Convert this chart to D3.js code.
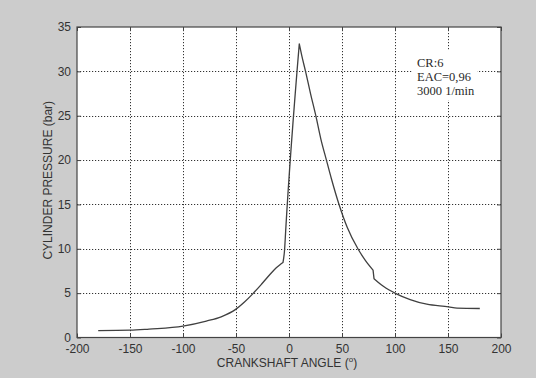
<!DOCTYPE html>
<html>
<head>
<meta charset="utf-8">
<script src="https://cdn.jsdelivr.net/npm/d3@7/dist/d3.min.js"></script>
<style>
  html, body { margin: 0; padding: 0; background: #cccccc; }
  svg { display: block; }
</style>
</head>
<body>
<svg id="chart" width="536" height="378"></svg>
<script>
// Crank angle (degrees) and cylinder pressure (bar)
const crankAngle = [-180, -150, -132, -100, -78, -64, -50, -42, -34, -26, -18, -12, -8, -5.7,
  -4.1, -3.1, 9.7, 12, 15.6, 20.3, 25.3, 30, 35.3, 40, 47.2, 55, 65, 72, 79.3,
  80.2, 89, 100.8, 114.3, 130, 150.6, 158.5, 180];
const cylinderPressure = [0.78, 0.82, 0.95, 1.28, 1.85, 2.33, 3.2, 4.0, 4.95, 6.0, 7.1, 7.87, 8.25, 8.45,
  10.0, 12.1, 33.1, 31.8, 30.0, 27.5, 25.0, 22.4, 20.0, 17.9, 15.0, 12.4, 10.0, 8.7, 7.6,
  6.63, 5.77, 4.95, 4.28, 3.75, 3.45, 3.3, 3.27];
// angles where the trace changes slope abruptly (start of combustion, peak, exhaust opening)
const breakAngles = [-5.7, 9.7, 79.3, 80.2];

const xTicks = [-200, -150, -100, -50, 0, 50, 100, 150, 200];
const yTicks = [0, 5, 10, 15, 20, 25, 30, 35];
const noteLines = ["CR:6", "EAC=0,96", "3000 1/min"];

const svg = d3.select("#chart");
const plot = { left: 77, right: 501, top: 27, bottom: 337.5 };

const x = d3.scaleLinear().domain([-200, 200]).range([plot.left, plot.right]);
const y = d3.scaleLinear().domain([0, 35]).range([plot.bottom, plot.top]);

const sans = "'Liberation Sans', Arial, sans-serif";
const textColor = "#333";
const fontSize = 12;

// white axes area
svg.append("rect")
  .attr("x", plot.left).attr("y", plot.top)
  .attr("width", plot.right - plot.left).attr("height", plot.bottom - plot.top)
  .attr("fill", "#fff");

// dotted grid
const grid = svg.append("g")
  .attr("stroke", "#333").attr("stroke-width", 1)
  .attr("stroke-dasharray", "1.2,1.8").attr("fill", "none");
grid.selectAll("line.v").data(xTicks.slice(1, -1)).join("line")
  .attr("x1", d => Math.round(x(d)) + 0.5).attr("x2", d => Math.round(x(d)) + 0.5)
  .attr("y1", plot.top).attr("y2", plot.bottom);
grid.selectAll("line.h").data(yTicks.slice(1, -1)).join("line")
  .attr("x1", plot.left).attr("x2", plot.right)
  .attr("y1", d => Math.round(y(d)) + 0.5).attr("y2", d => Math.round(y(d)) + 0.5);

// annotation with white background
const note = svg.append("g");
note.append("rect")
  .attr("x", 413).attr("y", 50).attr("width", 64).attr("height", 50)
  .attr("fill", "#fff");
note.selectAll("text").data(noteLines).join("text")
  .attr("x", 417).attr("y", (d, i) => 66.5 + i * 14.3)
  .attr("font-family", "'Liberation Serif', 'Times New Roman', serif")
  .attr("font-size", 12.5).attr("fill", "#2a2a2a")
  .text(d => d);

// pressure curve: smooth monotone pieces joined at the slope breaks
const points = crankAngle.map((a, i) => [a, cylinderPressure[i]]);
const cuts = [0, ...breakAngles.map(b => crankAngle.indexOf(b)), points.length - 1];
const piece = d3.line().x(d => x(d[0])).y(d => y(d[1])).curve(d3.curveMonotoneX);
let pathD = "";
for (let k = 0; k < cuts.length - 1; k++) {
  const seg = piece(points.slice(cuts[k], cuts[k + 1] + 1));
  pathD += k === 0 ? seg : "L" + seg.slice(1);
}
svg.append("path")
  .attr("d", pathD)
  .attr("fill", "none").attr("stroke", "#404040").attr("stroke-width", 1.3)
  .attr("stroke-linejoin", "round");

// axes with inward ticks
const fmt = d => String(d);
const xAxis = svg.append("g").attr("transform", `translate(0,${plot.bottom})`)
  .call(d3.axisBottom(x).tickValues(xTicks).tickFormat(fmt).tickSizeInner(-4).tickSizeOuter(0).tickPadding(7));
const yAxis = svg.append("g").attr("transform", `translate(${plot.left},0)`)
  .call(d3.axisLeft(y).tickValues(yTicks).tickFormat(fmt).tickSizeInner(-4).tickSizeOuter(0).tickPadding(6));
const xTop = svg.append("g").attr("transform", `translate(0,${plot.top})`)
  .call(d3.axisTop(x).tickValues(xTicks).tickSizeInner(-4).tickSizeOuter(0).tickFormat(""));
const yRight = svg.append("g").attr("transform", `translate(${plot.right},0)`)
  .call(d3.axisRight(y).tickValues(yTicks).tickSizeInner(-4).tickSizeOuter(0).tickFormat(""));

[xAxis, yAxis, xTop, yRight].forEach(g => {
  g.select(".domain").remove();
  g.selectAll(".tick line").attr("stroke", "#444");
  g.selectAll("text").attr("font-family", sans).attr("font-size", fontSize).attr("fill", textColor);
});
xAxis.selectAll("text").attr("dy", "0.68em");

// frame
svg.append("rect")
  .attr("x", plot.left).attr("y", plot.top)
  .attr("width", plot.right - plot.left).attr("height", plot.bottom - plot.top)
  .attr("fill", "none").attr("stroke", "#444").attr("stroke-width", 1.2);

// axis titles
const xTitle = svg.append("text")
  .attr("x", (plot.left + plot.right) / 2 - 2).attr("y", 366.5)
  .attr("text-anchor", "middle")
  .attr("font-family", sans).attr("font-size", fontSize).attr("fill", textColor);
xTitle.append("tspan").text("CRANKSHAFT ANGLE (");
xTitle.append("tspan").attr("dy", -5).attr("font-size", 8).text("o");
xTitle.append("tspan").attr("dy", 5).text(")");

svg.append("text")
  .attr("transform", `translate(52,${(plot.top + plot.bottom) / 2 - 2}) rotate(-90)`)
  .attr("text-anchor", "middle")
  .attr("font-family", sans).attr("font-size", fontSize).attr("fill", textColor)
  .text("CYLINDER PRESSURE (bar)");
</script>
</body>
</html>
